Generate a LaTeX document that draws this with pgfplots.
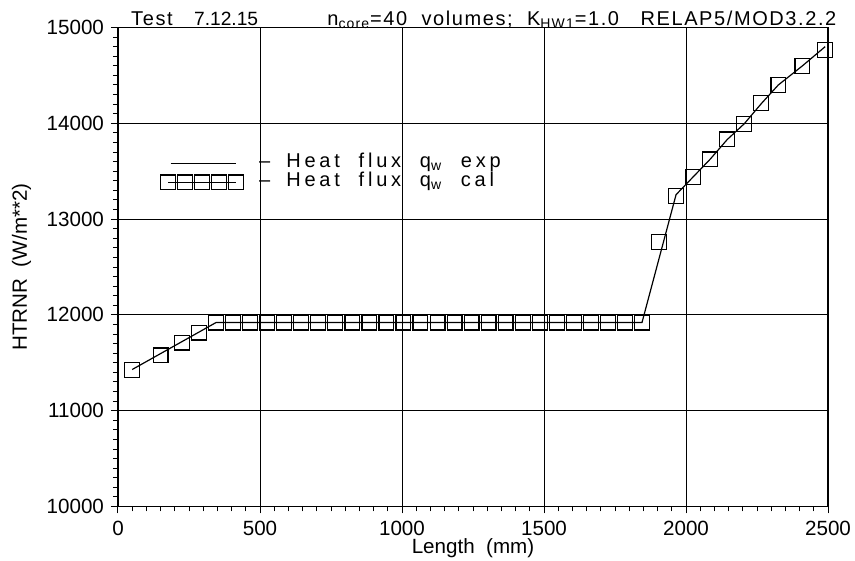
\documentclass[border=0pt]{standalone}
\usepackage{fontspec}
\setmainfont{Liberation Sans}
\newfontfamily\titlefont[LetterSpace=8]{Liberation Sans}
\newfontfamily\legendfont[LetterSpace=19]{Liberation Sans}
\usepackage{pgfplots}
\usepackage{pgfplotstable}
\pgfplotsset{compat=1.18}

% measured heat flux along the heated length
\pgfplotstableread{
x y
50 11430
345 11920
1845 11920
1965 13255
2025 13440
2085 13625
2145 13830
2205 13995
2265 14205
2325 14400
2410 14600
2490 14800
}\expdata

% RELAP5 result, one value per core volume
\pgfplotstableread{
x y
50 11425
150 11578
225 11710
285 11815
345 11920
405 11920
465 11920
525 11920
585 11920
645 11920
705 11920
765 11920
825 11920
885 11920
945 11920
1005 11920
1065 11920
1125 11920
1185 11920
1245 11920
1305 11920
1365 11920
1425 11920
1485 11920
1545 11920
1605 11920
1665 11920
1725 11920
1785 11920
1845 11920
1905 12760
1965 13240
2025 13440
2085 13623
2145 13832
2205 13993
2265 14209
2325 14401
2410 14600
2490 14768
}\caldata

\newcommand\tfont{\fontsize{10.3}{12}\selectfont}
\newcommand\hfont{\titlefont\fontsize{10}{12}\selectfont}
\newcommand\lfont{\legendfont\fontsize{10}{12}\selectfont}

\begin{document}
\begin{tikzpicture}
\begin{axis}[
  width=355pt, height=239.5pt, scale only axis,
  xmin=0, xmax=2500, ymin=10000, ymax=15000,
  xtick={0,500,...,2500}, ytick={10000,11000,...,15000},
  minor x tick num=9, minor y tick num=9,
  xtick pos=bottom, ytick pos=left,
  tick align=outside,
  major tick length=3.5pt, minor tick length=2.5pt,
  every tick/.style={black, line width=0.5pt},
  grid=major,
  major grid style={black, line width=0.5pt},
  axis line style={black, line width=0.8pt},
  scaled ticks=false,
  /pgf/number format/assume math mode=true,
  /pgf/number format/set thousands separator={},
  tick label style={font=\tfont},
  xticklabel style={yshift=-0.5pt},
  xlabel={Length\ \ (mm)},
  ylabel={HTRNR\ \ (W/m**2)},
  label style={font=\fontsize{10.3}{12}\selectfont},
  xlabel style={at={(axis description cs:0.5,-0.0981)}, anchor=base},
  ylabel style={at={(axis description cs:-0.1282,0.5)}, anchor=base, rotate=0},
  clip=false,
  legend cell align=left,
  legend style={at={(axis cs:148,13485)}, anchor=west, draw=none, fill=none,
    inner sep=0pt, outer sep=0pt, row sep=0pt, column sep=7.5pt,
    nodes={inner sep=0pt, text height=7pt, text depth=2.5pt, font=\lfont}},
]
\addplot[black, line width=0.6pt, mark=none,
  legend image code/.code={
    \path[draw=none] (0pt,-3.75pt) rectangle (41.5pt,3.75pt);
    \draw[black, line width=0.6pt] (5pt,0pt) -- (37.5pt,0pt);
  }] table {\expdata};
\addlegendentry{–\hspace{8pt}Heat\ \ flux\ \ q\textsubscript{w}\ \ exp}

\addplot[black, only marks, mark=square, mark size=3.7pt,
  mark options={line width=0.6pt},
  legend image code/.code={
    \draw[black, line width=0.6pt] (3.75pt,0pt) -- (37.75pt,0pt);
    \foreach \i in {0,...,4} {
      \draw[black, line width=0.6pt] (\i*8.5pt,-3.6pt) rectangle ++(7.5pt,7.2pt);
    }
  }] table {\caldata};
\addlegendentry{–\hspace{8pt}Heat\ \ flux\ \ q\textsubscript{w}\ \ cal}

\node[anchor=base west, font=\hfont, inner sep=0pt] at (rel axis cs:0.018,1.005) {Test};
\node[anchor=base east, font=\fontsize{9.6}{12}\selectfont, inner sep=0pt] at (rel axis cs:0.198,1.005) {7.12.15};
\node[anchor=base west, font=\hfont, inner sep=0pt] at (rel axis cs:0.2944,1.005)
  {n\textsubscript{core}=40\ \ volumes;\ \ K\textsubscript{HW1}=1.0\ \ \ RELAP5/MOD3.2.2};

\coordinate (bl) at (rel axis cs:0,0);
\coordinate (tr) at (rel axis cs:1,1);
\end{axis}
\pgfresetboundingbox
\path ([xshift=-59pt,yshift=-27pt]bl) rectangle ([xshift=13.5pt,yshift=13.75pt]tr);
\end{tikzpicture}
\end{document}
